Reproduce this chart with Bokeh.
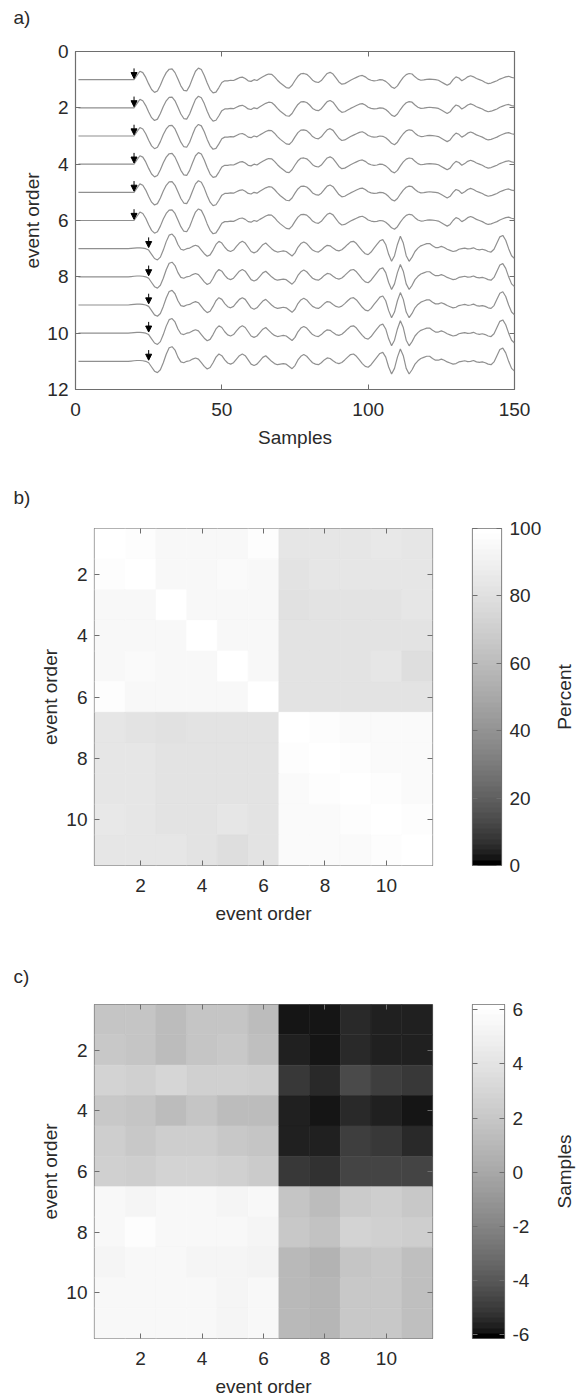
import numpy as np
from bokeh.plotting import figure
from bokeh.layouts import column, row
from bokeh.models import (Range1d, LinearAxis, FixedTicker, ColumnDataSource, Arrow,
                          NormalHead, LinearColorMapper)
from bokeh.embed import file_html
from bokeh.resources import INLINE

# ---------------- data ----------------
event_order = list(range(1, 12))
onset_sample = [20, 20, 20, 20, 20, 20, 25, 25, 25, 25, 25]
trace_family = ["A", "A", "A", "A", "A", "A", "B", "B", "B", "B", "B"]
samples = list(range(1, 151))

# waveform of events 1-6 (amplitude in event-order units, up positive), samples 1..150
wave_A = [0.0] * 19 + [
    0.0, 0.15, 0.3, 0.25, 0.08, -0.15, -0.35, -0.45, -0.4, -0.2, 0.05,
    0.25, 0.37, 0.38, 0.25, 0.02, -0.22, -0.38, -0.4, -0.22, 0.05,
    0.3, 0.41, 0.36, 0.15, -0.12, -0.35, -0.47, -0.44, -0.28, -0.1,
    -0.04, -0.04, -0.02, -0.03, 0.02, 0.07, 0.09, 0.04, -0.04, -0.06,
    0.0, -0.03, 0.04, 0.1, 0.16, 0.2, 0.19, 0.1, -0.02, -0.12,
    -0.2, -0.28, -0.3, -0.2, -0.03, 0.12, 0.21, 0.22, 0.19, 0.1,
    -0.02, -0.08, -0.1, -0.03, 0.1, 0.22, 0.26, 0.2, 0.06, -0.08,
    -0.16, -0.14, -0.08, -0.02, 0.03, 0.08, 0.13, 0.15, 0.1, 0.02,
    -0.02, -0.04, -0.03, 0.0, -0.01, -0.06, -0.15, -0.26, -0.31, -0.22,
    -0.06, 0.08, 0.18, 0.22, 0.2, 0.1, 0.02, -0.02, -0.01, 0.01,
    0.02, 0.01, 0.0, -0.02, -0.08, -0.14, -0.2, -0.14, 0.0, 0.1,
    0.06, -0.04, 0.02, 0.1, 0.14, 0.1, 0.04, 0.0, -0.04, -0.1,
    -0.14, -0.12, -0.08, -0.04, 0.02, 0.06, 0.1, 0.12, 0.08, 0.06]

# waveform of events 7-11
wave_B = [0.0] * 18 + [
    0.01, 0.02, 0.03, 0.03, 0.02, 0.0,
    -0.05, -0.2, -0.35, -0.4, -0.3, -0.05,
    0.25, 0.48, 0.52, 0.4, 0.15, -0.02, -0.05, 0.0, 0.02, 0.08,
    0.12, 0.08, -0.05, -0.18, -0.27, -0.22, -0.05, 0.15, 0.26, 0.2,
    0.05, -0.06, -0.1, -0.05, 0.08, 0.2, 0.26, 0.2, 0.05, -0.1,
    -0.15, -0.1, 0.02, 0.14, 0.2, 0.1, 0.0, -0.08, -0.12, -0.1,
    -0.08, -0.1, -0.18, -0.26, -0.15, 0.05, 0.18, 0.24, 0.18, 0.06,
    -0.05, -0.1, -0.12, -0.05, 0.05, 0.12, 0.1, 0.02, -0.05, -0.08,
    -0.04, 0.05, 0.15, 0.24, 0.26, 0.18, 0.05, -0.08, -0.18, -0.21,
    -0.12, 0.02, 0.15, 0.28, 0.32, 0.15, -0.2, -0.45, -0.25, 0.15,
    0.44, 0.2, -0.25, -0.45, -0.3, -0.1, 0.02, 0.1, 0.14, 0.18,
    0.18, 0.1, 0.04, 0.04, 0.08, 0.04, -0.02, -0.06, -0.1, -0.08,
    -0.02, 0.0, 0.02, -0.01, 0.0, 0.03, -0.02, -0.04, -0.02, -0.05,
    -0.1, -0.12, -0.02, 0.2, 0.42, 0.47, 0.3, 0.0, -0.25, -0.35]

# cross-correlation coefficient (percent)
corr_pct = [
    [100, 97, 94, 95, 95, 97, 83, 84, 84, 85, 84],
    [97, 100, 95, 95, 96, 95, 82, 83, 83, 84, 84],
    [94, 95, 100, 94, 94, 95, 81, 82, 82, 82, 83],
    [95, 95, 94, 100, 95, 95, 82, 82, 82, 82, 82],
    [95, 96, 94, 95, 100, 95, 82, 82, 82, 83, 79],
    [97, 95, 95, 95, 95, 100, 82, 82, 82, 82, 82],
    [83, 82, 81, 82, 82, 82, 100, 97, 96, 96, 96],
    [84, 83, 82, 82, 82, 82, 97, 100, 97, 96, 96],
    [84, 83, 82, 82, 82, 82, 96, 97, 100, 97, 96],
    [85, 84, 82, 82, 83, 82, 96, 96, 97, 100, 97],
    [84, 84, 83, 82, 79, 82, 96, 96, 96, 97, 100]]

# lag of the correlation maximum (samples)
lag_samples = [
    [1.9, 1.9, 1.2, 1.8, 1.8, 1.2, -5.8, -5.9, -5.5, -5.65, -5.7],
    [2.1, 1.8, 1.3, 1.8, 2.0, 1.4, -5.7, -5.85, -5.4, -5.6, -5.75],
    [2.8, 2.6, 3.0, 2.7, 2.6, 2.4, -5.1, -5.5, -4.6, -4.9, -5.0],
    [2.0, 1.8, 1.2, 1.8, 1.3, 1.3, -5.75, -5.85, -5.45, -5.65, -5.8],
    [2.4, 2.1, 2.4, 2.5, 2.1, 1.8, -5.6, -5.7, -4.9, -5.1, -5.45],
    [2.7, 2.5, 2.8, 2.8, 2.6, 2.3, -5.0, -5.2, -4.65, -4.75, -4.75],
    [5.5, 5.3, 5.6, 5.5, 5.3, 5.5, 1.8, 1.3, 2.3, 2.4, 2.1],
    [5.6, 6.0, 5.6, 5.5, 5.5, 5.3, 2.1, 1.7, 2.8, 2.7, 2.4],
    [5.3, 5.5, 5.5, 5.3, 5.3, 5.2, 1.0, 0.7, 1.8, 2.0, 1.4],
    [5.5, 5.5, 5.6, 5.5, 5.3, 5.5, 1.0, 0.8, 2.0, 2.0, 1.5],
    [5.5, 5.6, 5.5, 5.5, 5.3, 5.5, 1.1, 0.9, 2.1, 2.0, 1.5]]

a_xticks = [0, 50, 100, 150]
a_yticks = [0, 2, 4, 6, 8, 10, 12]
heat_ticks = [2, 4, 6, 8, 10]
pct_ticks = [0, 20, 40, 60, 80, 100]
lag_ticks = [-6, -4, -2, 0, 2, 4, 6]
pct_range = (0, 100)
lag_range = (-6.15, 6.2)

# ---------------- style ----------------
FONT = "Liberation Sans"
TXT = "#2a2a2a"
AX = "#6e6e6e"
FS = "19px"
GAMMA = 0.6
gray64 = ["#%02x%02x%02x" % (v, v, v) for v in
          (int(round(255 * (k / 63) ** GAMMA)) for k in range(64))]


def style_axis(ax, labels=True, standoff=7):
    ax.axis_line_color = None
    ax.major_tick_in = 5
    ax.major_tick_out = 0
    ax.major_tick_line_color = AX
    ax.major_tick_line_width = 1
    ax.minor_tick_line_color = None
    ax.major_label_text_font = FONT
    ax.major_label_text_font_size = FS
    ax.major_label_text_color = TXT
    ax.major_label_standoff = standoff
    ax.axis_label_text_font = FONT
    ax.axis_label_text_font_size = FS
    ax.axis_label_text_font_style = "normal"
    ax.axis_label_text_color = TXT
    if not labels:
        ax.major_label_text_font_size = "1px"
        ax.major_label_text_color = None
        ax.major_label_standoff = 0


def plain_labels(ax, ticks):
    # ASCII hyphen-minus like the reference
    ax.major_label_overrides = {t: str(t) for t in ticks}


def base_fig(**kw):
    p = figure(output_backend="svg", toolbar_location=None, **kw)
    p.xgrid.visible = False
    p.ygrid.visible = False
    p.outline_line_color = AX
    p.outline_line_width = 1.2
    p.background_fill_color = "white"
    p.border_fill_color = "white"
    return p


def tag_fig(text, height, standoff):
    t = figure(output_backend="svg", toolbar_location=None, width=576, height=height,
               x_range=Range1d(0, 1), y_range=Range1d(0, 1),
               min_border_left=0, min_border_right=0, min_border_top=0, min_border_bottom=0)
    t.xaxis.visible = False
    t.yaxis.visible = False
    t.xgrid.visible = False
    t.ygrid.visible = False
    t.outline_line_color = None
    t.title.text = text
    t.title.align = "left"
    t.title.vertical_align = "top"
    # frames in the column are aligned with panel a's frame (left edge at 75 px)
    t.title.offset = -62
    t.title.standoff = standoff
    t.title.text_font = FONT
    t.title.text_font_size = FS
    t.title.text_font_style = "normal"
    t.title.text_color = TXT
    return t


# ---------------- panel a ----------------
tag_a = tag_fig("a)", 38, 12)
pa = base_fig(width=576, height=446, x_range=Range1d(0, 150), y_range=Range1d(12, 0),
              min_border_left=75, min_border_right=62, min_border_top=13, min_border_bottom=95)
trace_ys = []
for e, fam in zip(event_order, trace_family):
    w = wave_A if fam == "A" else wave_B
    trace_ys.append([e - v for v in w])
pa.multi_line(xs=[samples] * len(event_order), ys=trace_ys, line_color="#909090", line_width=1.2)

arrow_src = ColumnDataSource(dict(x=onset_sample,
                                  y0=[e - 0.4 for e in event_order],
                                  y1=[e - 0.04 for e in event_order]))
pa.add_layout(Arrow(x_start="x", y_start="y0", x_end="x", y_end="y1", source=arrow_src,
                    line_color="black", line_width=1.0,
                    end=NormalHead(size=6, fill_color="black", line_color="black")))

pa.xaxis.ticker = FixedTicker(ticks=a_xticks)
pa.yaxis.ticker = FixedTicker(ticks=a_yticks)
pa.xaxis.axis_label = "Samples"
pa.yaxis.axis_label = "event order"
style_axis(pa.xaxis[0], standoff=13)
style_axis(pa.yaxis[0], standoff=7)
pa.xaxis.axis_label_standoff = 8
pa.yaxis.axis_label_standoff = 1
ax_top = LinearAxis(ticker=FixedTicker(ticks=a_xticks))
style_axis(ax_top, labels=False)
pa.add_layout(ax_top, "above")
ax_right = LinearAxis(ticker=FixedTicker(ticks=a_yticks))
style_axis(ax_right, labels=False)
pa.add_layout(ax_right, "right")


# ---------------- heatmaps ----------------
def heat_panel(matrix, rng, ticks, cb_label, height, top, bottom):
    mapper = LinearColorMapper(palette=gray64, low=rng[0], high=rng[1])
    cols, rows, vals = [], [], []
    for i, r in enumerate(event_order):
        for j, c in enumerate(event_order):
            cols.append(c)
            rows.append(r)
            vals.append(matrix[i][j])
    src = ColumnDataSource(dict(col=cols, row=rows, val=vals))
    p = base_fig(width=440, height=height, x_range=Range1d(0.5, 11.5), y_range=Range1d(11.5, 0.5),
                 min_border_left=94, min_border_right=8, min_border_top=top, min_border_bottom=bottom)
    p.rect("col", "row", 1, 1, source=src,
           fill_color={"field": "val", "transform": mapper},
           line_color={"field": "val", "transform": mapper}, line_width=0.6)
    p.xaxis.ticker = FixedTicker(ticks=heat_ticks)
    p.yaxis.ticker = FixedTicker(ticks=heat_ticks)
    p.xaxis.axis_label = "event order"
    p.yaxis.axis_label = "event order"
    style_axis(p.xaxis[0], standoff=13)
    style_axis(p.yaxis[0], standoff=7)
    p.xaxis.axis_label_standoff = 8
    p.yaxis.axis_label_standoff = 2
    t = LinearAxis(ticker=FixedTicker(ticks=heat_ticks))
    style_axis(t, labels=False)
    p.add_layout(t, "above")
    r_ = LinearAxis(ticker=FixedTicker(ticks=heat_ticks))
    style_axis(r_, labels=False)
    p.add_layout(r_, "right")

    # colour bar
    cb = base_fig(width=104, height=height, x_range=Range1d(0, 1), y_range=Range1d(rng[0], rng[1]),
                  min_border_left=32, min_border_right=40, min_border_top=top, min_border_bottom=bottom)
    grad = np.linspace(rng[0], rng[1], 256).reshape(256, 1)
    cb.image(image=[grad], x=0, y=rng[0], dw=1, dh=rng[1] - rng[0], color_mapper=mapper)
    cb.xaxis.visible = False
    cb.yaxis.ticker = FixedTicker(ticks=ticks)
    style_axis(cb.yaxis[0], labels=False)
    ra = LinearAxis(ticker=FixedTicker(ticks=ticks))
    style_axis(ra, standoff=8)
    plain_labels(ra, ticks)
    cb.add_layout(ra, "right")

    # colour-bar title (rotated, reading upwards)
    lab = figure(output_backend="svg", toolbar_location=None, width=32, height=height,
                 x_range=Range1d(0, 1), y_range=Range1d(rng[0], rng[1]),
                 min_border_left=30, min_border_right=0, min_border_top=top, min_border_bottom=bottom)
    lab.outline_line_color = None
    lab.xgrid.visible = False
    lab.ygrid.visible = False
    lab.xaxis.visible = False
    lab.yaxis.ticker = FixedTicker(ticks=[])
    lab.yaxis.axis_line_color = None
    lab.yaxis.major_tick_line_color = None
    lab.yaxis.minor_tick_line_color = None
    lab.yaxis.major_label_text_font_size = "1px"
    lab.yaxis.major_label_text_color = None
    lab.yaxis.major_label_standoff = 0
    lab.yaxis.axis_label = cb_label
    lab.yaxis.axis_label_standoff = 0
    lab.yaxis.axis_label_text_font = FONT
    lab.yaxis.axis_label_text_font_size = FS
    lab.yaxis.axis_label_text_font_style = "normal"
    lab.yaxis.axis_label_text_color = TXT
    return row(p, cb, lab)


tag_b = tag_fig("b)", 30, 4)
pb = heat_panel(corr_pct, pct_range, pct_ticks, "Percent", 449, 14, 98)
tag_c = tag_fig("c)", 30, 4)
pc = heat_panel(lag_samples, lag_range, lag_ticks, "Samples", 406, 11, 58)

layout = column(tag_a, pa, tag_b, pb, tag_c, pc)
open("out.html", "w").write(file_html(layout, INLINE))
